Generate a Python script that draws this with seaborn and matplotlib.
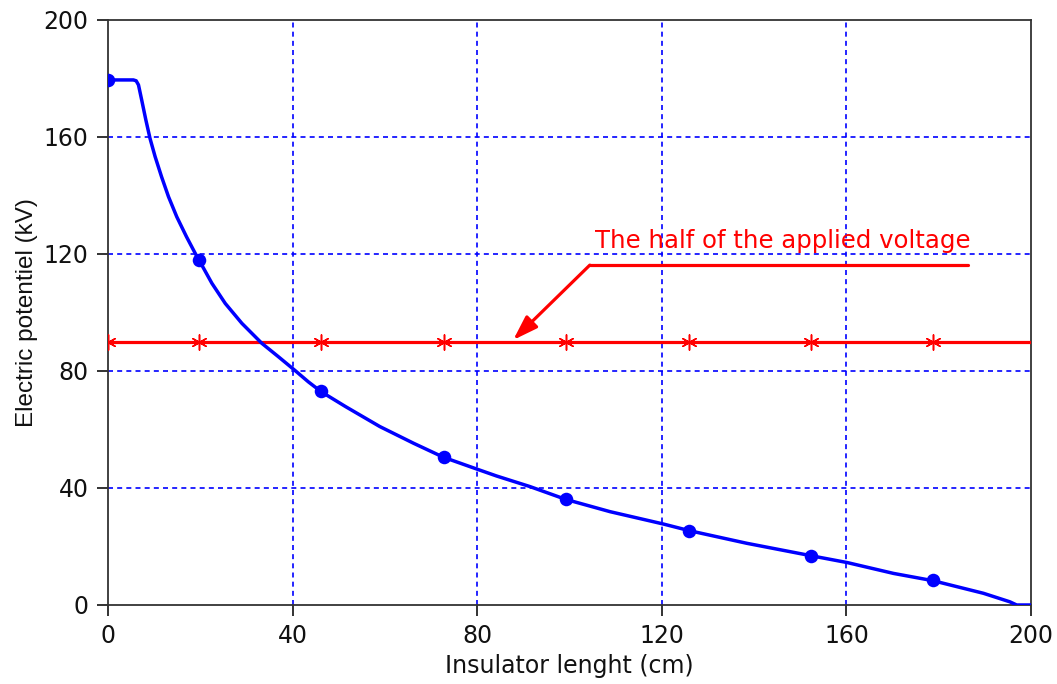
import matplotlib
matplotlib.use("Agg")
import matplotlib.pyplot as plt
import seaborn as sns

# Potential distribution along the insulator string
curve_x = [0, 5.5, 6.1, 6.6, 7.3, 8.2, 9.1, 10.2, 11.6, 13.1, 14.9, 17.0, 18.9,
           19.8, 22.5, 25.4, 29.0, 33.3, 36.9, 40.5, 43.4, 46.2, 51.5, 58.9,
           66.2, 72.7, 80.4, 84.2, 91.4, 99.2, 108.8, 120.3, 126.0, 138.4,
           152.5, 160.2, 170.2, 178.8, 189.7, 195.4, 196.9, 200.0]
curve_y = [179.5, 179.5, 179.2, 177.8, 172.6, 165.8, 159.5, 153.3, 146.4, 139.6,
           132.7, 125.9, 120.2, 117.7, 110.0, 103.1, 96.3, 89.5, 84.9, 80.2,
           76.3, 72.9, 67.8, 61.0, 55.3, 50.5, 46.2, 44.1, 40.5, 36.1, 31.9,
           27.7, 25.4, 21.1, 16.8, 14.5, 10.8, 8.3, 4.0, 1.1, 0.0, 0.0]

# Computed nodes (one per disc)
node_x = [0, 19.8, 46.1, 72.8, 99.2, 125.8, 152.4, 178.8]
node_y = [179.5, 117.8, 73.0, 50.6, 36.2, 25.3, 16.8, 8.4]

half_voltage = 90
span_x = [0, 200]

x_ticks = [0, 40, 80, 120, 160, 200]
y_ticks = [0, 40, 80, 120, 160, 200]

sns.set_style("ticks")
plt.rcParams["font.family"] = ["DejaVu Sans"]

fig = plt.figure(figsize=(10.57, 6.84), dpi=100)
ax = fig.add_axes([0.1022, 0.1155, 0.8732, 0.8553])

# grid
for v in x_ticks[1:-1]:
    ax.axvline(v, color="#0000ff", lw=1.2, ls=(0, (3, 2.5)), zorder=1)
for v in y_ticks[1:-1]:
    ax.axhline(v, color="#0000ff", lw=1.2, ls=(0, (3, 2.5)), zorder=1)

# half of applied voltage
sns.lineplot(x=span_x, y=[half_voltage] * len(span_x), ax=ax, color="#ff0000",
             lw=2.3, zorder=3)
sns.scatterplot(x=node_x, y=[half_voltage] * len(node_x), ax=ax, marker=(6, 2, 0),
                s=120, color="#ff0000", linewidth=1.1, zorder=4)

# potential curve
sns.lineplot(x=curve_x, y=curve_y, ax=ax, sort=False, estimator=None,
             color="#0000ff", lw=2.5, zorder=5)
sns.scatterplot(x=node_x, y=node_y, ax=ax, s=95, color="#0000ff",
                edgecolor="#0000ff", linewidth=0, zorder=6)

# annotation
ax.plot([104.4, 186.3], [116.2, 116.2], color="#ff0000", lw=2.3, zorder=4)
ax.annotate("", xy=(87.8, 90.6), xytext=(104.4, 116.2),
            arrowprops=dict(arrowstyle="-|>,head_length=0.75,head_width=0.25",
                            color="#ff0000", lw=2.3, mutation_scale=20,
                            shrinkA=0, shrinkB=0), zorder=4)
ax.text(105.5, 124.4, "The half of the applied voltage", color="#ff0000",
        fontsize=17.6, va="center", ha="left", zorder=4)

ax.set_xlim(0, 200)
ax.set_ylim(0, 200)
ax.set_xticks(x_ticks)
ax.set_yticks(y_ticks)
ax.tick_params(axis="both", direction="out", length=8, width=1.3,
               color="#222222", labelsize=17, pad=6, labelcolor="#111111")
for s in ax.spines.values():
    s.set_visible(True)
    s.set_color("#333333")
    s.set_linewidth(1.3)

ax.set_xlabel("Insulator lenght (cm)", fontsize=17, color="#111111", labelpad=4)
ax.set_ylabel("Electric potentiel (kV)", fontsize=17.5, color="#111111",
              family=["Liberation Sans", "DejaVu Sans"], labelpad=4)

fig.savefig("out.png", dpi=100, facecolor="white")
